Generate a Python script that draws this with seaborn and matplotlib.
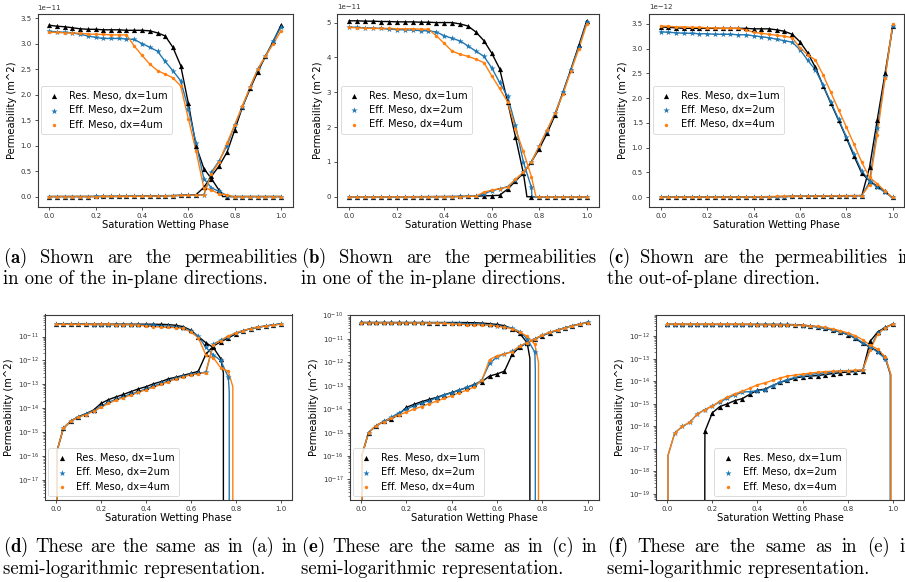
import matplotlib
matplotlib.use("Agg")
import numpy as np
import matplotlib.pyplot as plt
import seaborn as sns
from matplotlib.ticker import LogLocator, NullFormatter

# ---------------- data ----------------
SAT = [0.0, 0.033, 0.067, 0.1, 0.133, 0.167, 0.2, 0.233, 0.267, 0.3, 0.333,
       0.367, 0.4, 0.433, 0.467, 0.5, 0.533, 0.567, 0.6, 0.633, 0.667,
       0.7, 0.733, 0.767, 0.8, 0.833, 0.867, 0.9, 0.933, 0.967, 1.0]

LABELS = ["Res. Meso, dx=1um", "Eff. Meso, dx=2um", "Eff. Meso, dx=4um"]

# panel (a)/(d): in-plane direction 1
A_RES_NW = [3.36e-11, 3.34e-11, 3.33e-11, 3.31e-11, 3.29e-11, 3.28e-11, 3.28e-11, 3.27e-11, 3.27e-11, 3.27e-11,
            3.26e-11, 3.26e-11, 3.26e-11, 3.25e-11, 3.21e-11, 3.15e-11, 2.93e-11, 2.57e-11, 1.83e-11, 1.0e-11,
            5.5e-12, 3.5e-12, 1.2e-12, 0, 0, 0, 0, 0, 0, 0, 0]
A_EFF2_NW = [3.24e-11, 3.23e-11, 3.22e-11, 3.21e-11, 3.18e-11, 3.15e-11, 3.12e-11, 3.10e-11, 3.10e-11, 3.10e-11,
             3.09e-11, 3.08e-11, 3.00e-11, 2.93e-11, 2.85e-11, 2.65e-11, 2.47e-11, 2.27e-11, 1.72e-11, 1.05e-11,
             3.5e-12, 1.7e-12, 1.0e-12, 2.0e-13, 0, 0, 0, 0, 0, 0, 0]
A_EFF4_NW = [3.22e-11, 3.22e-11, 3.21e-11, 3.21e-11, 3.20e-11, 3.19e-11, 3.18e-11, 3.18e-11, 3.17e-11, 3.17e-11,
             3.17e-11, 2.95e-11, 2.77e-11, 2.60e-11, 2.47e-11, 2.40e-11, 2.33e-11, 2.17e-11, 1.53e-11, 9.0e-12,
             1.7e-12, 1.3e-12, 5.0e-13, 3.5e-13, 0, 0, 0, 0, 0, 0, 0]
A_RES_W = [0, 1.5e-15, 3.0e-15, 4.5e-15, 6.0e-15, 8.5e-15, 1.6e-14, 2.3e-14, 3.0e-14, 3.8e-14,
           5.0e-14, 6.5e-14, 8.0e-14, 1.05e-13, 1.3e-13, 1.7e-13, 2.0e-13, 2.4e-13, 2.9e-13, 3.5e-13,
           1.8e-12, 4.0e-12, 6.0e-12, 8.7e-12, 1.3e-11, 1.75e-11, 2.12e-11, 2.45e-11, 2.75e-11, 3.05e-11, 3.36e-11]
A_EFF2_W = [0, 1.5e-15, 3.1e-15, 4.3e-15, 5.8e-15, 8.0e-15, 1.2e-14, 1.8e-14, 2.4e-14, 3.1e-14,
            4.0e-14, 5.0e-14, 6.5e-14, 8.5e-14, 1.1e-13, 1.4e-13, 1.8e-13, 2.2e-13, 2.6e-13, 2.9e-13,
            3.2e-13, 4.8e-12, 7.0e-12, 1.0e-11, 1.4e-11, 1.75e-11, 2.15e-11, 2.5e-11, 2.75e-11, 3.05e-11, 3.33e-11]
A_EFF4_W = [0, 1.5e-15, 3.0e-15, 4.2e-15, 5.5e-15, 7.5e-15, 1.1e-14, 1.6e-14, 2.2e-14, 2.8e-14,
            3.6e-14, 4.6e-14, 6.0e-14, 7.5e-14, 1.0e-13, 1.3e-13, 1.7e-13, 2.1e-13, 2.5e-13, 2.8e-13,
            3.1e-13, 4.5e-12, 6.8e-12, 1.05e-11, 1.4e-11, 1.78e-11, 2.15e-11, 2.5e-11, 2.75e-11, 3.0e-11, 3.25e-11]
A_NW_KNEE_X = [0.745, 0.771, 0.787]
A_NW_KNEE_Y = [3e-13, 5e-14, 8e-14]
A_NW_ZERO_X = [0.748, 0.774, 0.790]
A_W_HEAD_X = [0.003, 0.003, 0.003]
A_W_HEAD_Y = [1.5e-16, 1.5e-16, 1.5e-16]

# panel (b)/(e): in-plane direction 2
B_RES_NW = [5.05e-11, 5.05e-11, 5.04e-11, 5.04e-11, 5.03e-11, 5.03e-11, 5.02e-11, 5.02e-11, 5.02e-11, 5.01e-11,
            5.01e-11, 5.0e-11, 5.0e-11, 5.0e-11, 4.96e-11, 4.9e-11, 4.73e-11, 4.48e-11, 4.12e-11, 3.68e-11,
            2.72e-11, 1.72e-11, 6.8e-12, 0, 0, 0, 0, 0, 0, 0, 0]
B_EFF2_NW = [4.87e-11, 4.86e-11, 4.85e-11, 4.84e-11, 4.83e-11, 4.81e-11, 4.80e-11, 4.79e-11, 4.78e-11, 4.77e-11,
             4.76e-11, 4.73e-11, 4.62e-11, 4.55e-11, 4.47e-11, 4.33e-11, 4.18e-11, 4.03e-11, 3.70e-11, 3.28e-11,
             2.88e-11, 2.05e-11, 1.0e-11, 2.7e-12, 0, 0, 0, 0, 0, 0, 0]
B_EFF4_NW = [4.86e-11, 4.85e-11, 4.84e-11, 4.83e-11, 4.83e-11, 4.83e-11, 4.82e-11, 4.82e-11, 4.82e-11, 4.81e-11,
             4.81e-11, 4.62e-11, 4.40e-11, 4.18e-11, 4.09e-11, 4.03e-11, 3.95e-11, 3.85e-11, 3.47e-11, 3.11e-11,
             2.72e-11, 1.95e-11, 1.3e-11, 5.8e-12, 0, 0, 0, 0, 0, 0, 0]
B_RES_W = [0, 1.0e-15, 2.0e-15, 3.0e-15, 3.8e-15, 6.0e-15, 1.2e-14, 1.6e-14, 2.1e-14, 2.6e-14,
           3.2e-14, 4.1e-14, 5.2e-14, 6.5e-14, 8.5e-14, 1.15e-13, 1.5e-13, 2.6e-13, 3.2e-13, 4.2e-13,
           2.2e-12, 4.5e-12, 6.8e-12, 1.0e-11, 1.38e-11, 1.82e-11, 2.35e-11, 3.0e-11, 3.65e-11, 4.35e-11, 5.05e-11]
B_EFF2_W = [0, 1.0e-15, 2.0e-15, 3.0e-15, 4.5e-15, 7.0e-15, 1.0e-14, 1.4e-14, 1.8e-14, 2.3e-14,
            3.0e-14, 4.0e-14, 5.0e-14, 6.5e-14, 8.5e-14, 1.1e-13, 1.75e-13, 9.0e-13, 1.7e-12, 2.3e-12,
            2.9e-12, 4.8e-12, 7.0e-12, 1.0e-11, 1.45e-11, 1.9e-11, 2.4e-11, 3.0e-11, 3.65e-11, 4.3e-11, 5.02e-11]
B_EFF4_W = [0, 1.0e-15, 2.0e-15, 2.9e-15, 4.2e-15, 5.6e-15, 7.5e-15, 1.0e-14, 1.3e-14, 1.7e-14,
            2.2e-14, 2.9e-14, 3.8e-14, 5.0e-14, 6.5e-14, 9.0e-14, 1.7e-13, 1.3e-12, 1.9e-12, 2.3e-12,
            2.8e-12, 5.0e-12, 7.0e-12, 1.0e-11, 1.45e-11, 1.92e-11, 2.4e-11, 2.95e-11, 3.6e-11, 4.25e-11, 4.95e-11]
B_NW_KNEE_X = [0.745, 0.769, 0.783]
B_NW_KNEE_Y = [1.5e-12, 5e-13, 1e-12]
B_NW_ZERO_X = [0.748, 0.771, 0.786]
B_W_HEAD_X = [0.003, 0.003, 0.003]
B_W_HEAD_Y = [1e-16, 1e-16, 1e-16]

# panel (c)/(f): out-of-plane direction
C_RES_NW = [3.44e-12, 3.43e-12, 3.42e-12, 3.41e-12, 3.41e-12, 3.41e-12, 3.41e-12, 3.41e-12, 3.41e-12, 3.41e-12,
            3.41e-12, 3.41e-12, 3.40e-12, 3.40e-12, 3.40e-12, 3.38e-12, 3.35e-12, 3.29e-12, 3.14e-12, 2.92e-12,
            2.62e-12, 2.25e-12, 1.90e-12, 1.55e-12, 1.20e-12, 8.3e-13, 4.8e-13, 3.3e-13, 2.2e-13, 1.2e-13, 0]
C_EFF2_NW = [3.34e-12, 3.33e-12, 3.32e-12, 3.31e-12, 3.31e-12, 3.30e-12, 3.30e-12, 3.29e-12, 3.29e-12, 3.29e-12,
             3.28e-12, 3.28e-12, 3.26e-12, 3.24e-12, 3.22e-12, 3.19e-12, 3.16e-12, 3.13e-12, 2.98e-12, 2.77e-12,
             2.57e-12, 2.26e-12, 1.92e-12, 1.57e-12, 1.22e-12, 8.7e-13, 5.2e-13, 3.3e-13, 2.0e-13, 1.0e-13, 0]
C_EFF4_NW = [3.46e-12, 3.45e-12, 3.44e-12, 3.44e-12, 3.43e-12, 3.43e-12, 3.42e-12, 3.42e-12, 3.41e-12, 3.41e-12,
             3.41e-12, 3.38e-12, 3.33e-12, 3.31e-12, 3.29e-12, 3.27e-12, 3.25e-12, 3.22e-12, 3.02e-12, 2.88e-12,
             2.77e-12, 2.47e-12, 2.12e-12, 1.76e-12, 1.42e-12, 1.07e-12, 7.0e-13, 4.0e-13, 2.7e-13, 1.2e-13, 0]
C_RES_W = [0, 0, 0, 0, 0, 6.0e-17, 4.0e-16, 7.5e-16, 1.0e-15, 1.4e-15,
           1.7e-15, 2.7e-15, 4.0e-15, 4.5e-15, 6.5e-15, 9.0e-15, 1.1e-14, 1.4e-14, 1.6e-14, 1.7e-14,
           1.8e-14, 2.0e-14, 2.2e-14, 2.4e-14, 2.6e-14, 2.7e-14, 3.0e-14, 6.0e-13, 1.55e-12, 2.5e-12, 3.45e-12]
C_EFF2_W = [0, 5e-17, 1.0e-16, 1.5e-16, 3.5e-16, 5.5e-16, 8.0e-16, 1.2e-15, 1.8e-15, 2.5e-15,
            3.3e-15, 3.5e-15, 3.8e-15, 4.2e-15, 6.5e-15, 9.0e-15, 1.2e-14, 1.5e-14, 1.8e-14, 2.0e-14,
            2.2e-14, 2.4e-14, 2.6e-14, 2.8e-14, 2.9e-14, 3.0e-14, 3.1e-14, 3.0e-13, 1.4e-12, 2.42e-12, 3.45e-12]
C_EFF4_W = [0, 5e-17, 1.0e-16, 1.5e-16, 3.5e-16, 5.5e-16, 8.0e-16, 1.3e-15, 2.0e-15, 2.8e-15,
            3.6e-15, 5.0e-15, 7.0e-15, 8.5e-15, 1.1e-14, 1.4e-14, 1.7e-14, 1.9e-14, 2.1e-14, 2.3e-14,
            2.5e-14, 2.7e-14, 2.8e-14, 2.9e-14, 3.0e-14, 3.1e-14, 3.2e-14, 2.5e-13, 1.25e-12, 2.4e-12, 3.5e-12]
C_NW_KNEE_X = [0.990, 0.990, 0.992]
C_NW_KNEE_Y = [2e-14, 2e-14, 2e-14]
C_NW_ZERO_X = [0.995, 0.994, 0.997]
C_W_HEAD_X = [0.1665, 0.003, 0.003]
C_W_HEAD_Y = [3e-18, 5e-18, 5e-18]

CAPTIONS_TOP = [
    ("(a)", "Shown are the permeabilities", "in one of the in-plane directions."),
    ("(b)", "Shown are the permeabilities", "in one of the in-plane directions."),
    ("(c)", "Shown are the permeabilities in", "the out-of-plane direction."),
]
CAPTIONS_BOT = [
    ("(d)", "These are the same as in (a) in", "semi-logarithmic representation."),
    ("(e)", "These are the same as in (c) in", "semi-logarithmic representation."),
    ("(f)", "These are the same as in (e) in", "semi-logarithmic representation."),
]

# ---------------- styling ----------------
W_PX, H_PX = 905, 582
COLORS = ["black", "#1f77b4", "#ff7f0e"]
MARKERS = ["^", "*", "o"]
MSIZES = [14, 22, 6]

plt.rcParams.update({
    "font.family": ["DejaVu Sans"],
    "axes.edgecolor": "#3a3a3a",
    "axes.linewidth": 0.8,
    "xtick.labelsize": 5,
    "ytick.labelsize": 5,
    "xtick.major.size": 2.5, "ytick.major.size": 2.5,
    "xtick.major.width": 0.6, "ytick.major.width": 0.6,
    "ytick.minor.size": 1.4, "ytick.minor.width": 0.45,
    "xtick.major.pad": 2, "ytick.major.pad": 2,
    "xtick.color": "#333333", "ytick.color": "#333333",
    "axes.labelsize": 7.2,
    "axes.labelpad": 2.5,
})

fig = plt.figure(figsize=(W_PX / 100, H_PX / 100), dpi=100)


def rect(l, r, t, b):
    return [l / W_PX, 1 - b / H_PX, (r - l) / W_PX, (b - t) / H_PX]


PANELS = [
    # (rect, nw, w, knee_x, knee_y, zero_x, head_x, head_y, log, ylim, legend loc)
    (rect(37.7, 292.6, 14, 206.5), [A_RES_NW, A_EFF2_NW, A_EFF4_NW], [A_RES_W, A_EFF2_W, A_EFF4_W],
     A_NW_KNEE_X, A_NW_KNEE_Y, A_NW_ZERO_X, A_W_HEAD_X, A_W_HEAD_Y, False, (-0.195e-11, 3.58e-11), "center left"),
    (rect(337.4, 598.6, 13.5, 206.5), [B_RES_NW, B_EFF2_NW, B_EFF4_NW], [B_RES_W, B_EFF2_W, B_EFF4_W],
     B_NW_KNEE_X, B_NW_KNEE_Y, B_NW_ZERO_X, B_W_HEAD_X, B_W_HEAD_Y, False, (-0.28e-11, 5.26e-11), "center left"),
    (rect(649.1, 904.3, 13.5, 206.5), [C_RES_NW, C_EFF2_NW, C_EFF4_NW], [C_RES_W, C_EFF2_W, C_EFF4_W],
     C_NW_KNEE_X, C_NW_KNEE_Y, C_NW_ZERO_X, C_W_HEAD_X, C_W_HEAD_Y, False, (-0.19e-12, 3.71e-12), "center left"),
    (rect(44.8, 291.9, 314.5, 499.5), [A_RES_NW, A_EFF2_NW, A_EFF4_NW], [A_RES_W, A_EFF2_W, A_EFF4_W],
     A_NW_KNEE_X, A_NW_KNEE_Y, A_NW_ZERO_X, A_W_HEAD_X, A_W_HEAD_Y, True, (1.56e-18, 8.3e-11), "lower left"),
    (rect(349.7, 599.0, 314.5, 499.5), [B_RES_NW, B_EFF2_NW, B_EFF4_NW], [B_RES_W, B_EFF2_W, B_EFF4_W],
     B_NW_KNEE_X, B_NW_KNEE_Y, B_NW_ZERO_X, B_W_HEAD_X, B_W_HEAD_Y, True, (1.4e-18, 1.1e-10), "lower left"),
    (rect(656.0, 904.0, 314.5, 499.5), [C_RES_NW, C_EFF2_NW, C_EFF4_NW], [C_RES_W, C_EFF2_W, C_EFF4_W],
     C_NW_KNEE_X, C_NW_KNEE_Y, C_NW_ZERO_X, C_W_HEAD_X, C_W_HEAD_Y, True, (5.6e-20, 9.3e-12), "lower center"),
]

for (rc, nws, ws, kx, ky, zx, hx, hy, is_log, ylim, loc) in PANELS:
    ax = fig.add_axes(rc)
    for i in range(3):
        col = COLORS[i]
        # line through non-wetting (decreasing) values, ending where it reaches zero
        sns.lineplot(x=SAT + [kx[i], zx[i]], y=nws[i] + [ky[i], 0.0], color=col, lw=1.0,
                     ax=ax, sort=True, estimator=None, errorbar=None, zorder=2)
        # line through wetting (increasing) values
        sns.lineplot(x=SAT + [hx[i]], y=ws[i] + [hy[i]], color=col, lw=1.0,
                     ax=ax, sort=True, estimator=None, errorbar=None, zorder=2)
        sns.scatterplot(x=SAT, y=nws[i], marker=MARKERS[i], s=MSIZES[i], color=col,
                        linewidth=0, ax=ax, label=LABELS[i], zorder=3)
        sns.scatterplot(x=SAT, y=ws[i], marker=MARKERS[i], s=MSIZES[i], color=col,
                        linewidth=0, ax=ax, zorder=3)
    ax.set_xlim(-0.05, 1.05)
    ax.set_xticks([0.0, 0.2, 0.4, 0.6, 0.8, 1.0])
    if is_log:
        ax.set_yscale("log")
        ax.yaxis.set_major_locator(LogLocator(base=10, numticks=40))
        ax.yaxis.set_minor_locator(LogLocator(base=10, subs=np.arange(2, 10), numticks=200))
        ax.yaxis.set_minor_formatter(NullFormatter())
    ax.set_ylim(*ylim)
    ax.yaxis.get_offset_text().set_fontsize(5)
    ax.set_xlabel("Saturation Wetting Phase", labelpad=1.2)
    ax.set_ylabel("Permeability (m^2)")
    h, l = ax.get_legend_handles_labels()
    leg = ax.legend(h[:3], l[:3], loc=loc, fontsize=7.1, borderaxespad=0.35,
                    handletextpad=0.6, handlelength=1.8, borderpad=0.45, labelspacing=0.45)
    leg.get_frame().set_linewidth(0.6)

# ---------------- captions (LaTeX-like subcaptions) ----------------
fig.canvas.draw()
renderer = fig.canvas.get_renderer()
CAP_FS = 13.5


def put_words(x0, y_base, words, width=None):
    arts = []
    for j, wd in enumerate(words):
        if j == 0:
            t = fig.text(0, 0, r"$\mathbf{%s}$" % wd, fontsize=CAP_FS, family="cmr10",
                         math_fontfamily="cm", va="baseline", ha="left")
        else:
            t = fig.text(0, 0, wd, fontsize=CAP_FS, family="cmr10", va="baseline", ha="left")
        arts.append(t)
    widths = [a.get_window_extent(renderer).width for a in arts]
    space = CAP_FS * 100 / 72 * 0.333
    if width is not None and len(words) > 1:
        gap = (width - sum(widths)) / (len(words) - 1)
    else:
        gap = space
    x = x0
    for a, wd in zip(arts, widths):
        a.set_position((x / W_PX, 1 - y_base / H_PX))
        x += wd + gap


def put_plain(x0, y_base, text):
    fig.text(x0 / W_PX, 1 - y_base / H_PX, text, fontsize=CAP_FS, family="cmr10",
             va="baseline", ha="left")


CAP_X = [3, 301, 607]
CAP_W_TOP = [295, 296, 306]
CAP_W_BOT = [294, 296, 308]
for k, (lab, l1, l2) in enumerate(CAPTIONS_TOP):
    put_words(CAP_X[k], 263, [lab] + l1.split(" "), CAP_W_TOP[k])
    put_plain(CAP_X[k], 284.5, l2)
for k, (lab, l1, l2) in enumerate(CAPTIONS_BOT):
    put_words(CAP_X[k], 552, [lab] + l1.split(" "), CAP_W_BOT[k])
    put_plain(CAP_X[k], 574.5, l2)

fig.savefig("out.png", dpi=100, facecolor="white")
